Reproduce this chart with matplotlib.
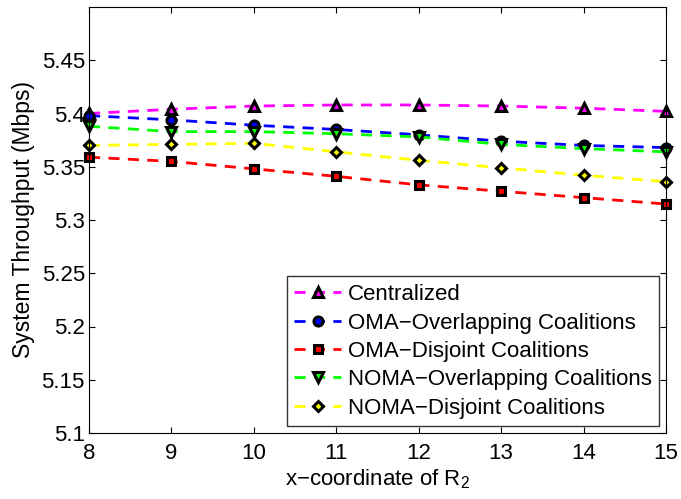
import numpy as np
import matplotlib
matplotlib.use('Agg')
import matplotlib.pyplot as plt

plt.rcParams['font.family'] = ['Liberation Sans', 'DejaVu Sans']
plt.rcParams['mathtext.fontset'] = 'custom'
plt.rcParams['mathtext.rm'] = 'Liberation Sans'

# data
x = [8, 9, 10, 11, 12, 13, 14, 15]
centralized = [5.400, 5.404, 5.407, 5.408, 5.408, 5.407, 5.405, 5.402]
oma_overlap = [5.398, 5.394, 5.389, 5.385, 5.380, 5.374, 5.370, 5.368]
oma_disjoint = [5.359, 5.355, 5.348, 5.341, 5.333, 5.327, 5.321, 5.315]
noma_overlap = [5.388, 5.383, 5.383, 5.381, 5.378, 5.371, 5.367, 5.364]
noma_disjoint = [5.370, 5.371, 5.372, 5.364, 5.356, 5.349, 5.342, 5.336]

series = [
    ('Centralized', centralized, 'magenta', '^', 7.5),
    ('OMA\u2212Overlapping Coalitions', oma_overlap, 'blue', 'o', 6.5),
    ('OMA\u2212Disjoint Coalitions', oma_disjoint, 'red', 's', 6),
    ('NOMA\u2212Overlapping Coalitions', noma_overlap, '#00ff00', 'v', 7.5),
    ('NOMA\u2212Disjoint Coalitions', noma_disjoint, 'yellow', 'D', 5.5),
]

fig = plt.figure(figsize=(6.81, 4.99), dpi=100)
ax = fig.add_axes([89 / 681, 66 / 499, 577 / 681, 426 / 499])

for name, y, c, m, ms in series:
    ax.plot(x, y, linestyle='--', dashes=(4, 3), color=c, linewidth=2,
            marker=m, markersize=ms, markerfacecolor=c,
            markeredgecolor='black', markeredgewidth=2.2, label=name,
            clip_on=False)

ax.set_xlim(8, 15)
ax.set_ylim(5.1, 5.5)
ax.set_xticks(x)
ax.set_yticks(np.arange(5.1, 5.46, 0.05))
ax.set_yticklabels(['5.1', '5.15', '5.2', '5.25', '5.3', '5.35', '5.4', '5.45'])
ax.tick_params(direction='in', labelsize=16, length=4, top=True, right=True)
ax.tick_params(axis='x', pad=7)
ax.tick_params(axis='y', pad=3)
ax.set_xlabel('x\u2212coordinate of R$_\\mathrm{2}$', fontsize=16, labelpad=3)
ax.set_ylabel('System Throughput (Mbps)', fontsize=16.5, labelpad=5)

leg = ax.legend(loc='lower right', fontsize=16, frameon=True, fancybox=False,
                edgecolor='black', borderpad=0.35, labelspacing=0.33,
                handlelength=2.1, handletextpad=0.3, borderaxespad=0.3)
leg.get_frame().set_linewidth(1.0)

fig.savefig('out.png', dpi=100)
